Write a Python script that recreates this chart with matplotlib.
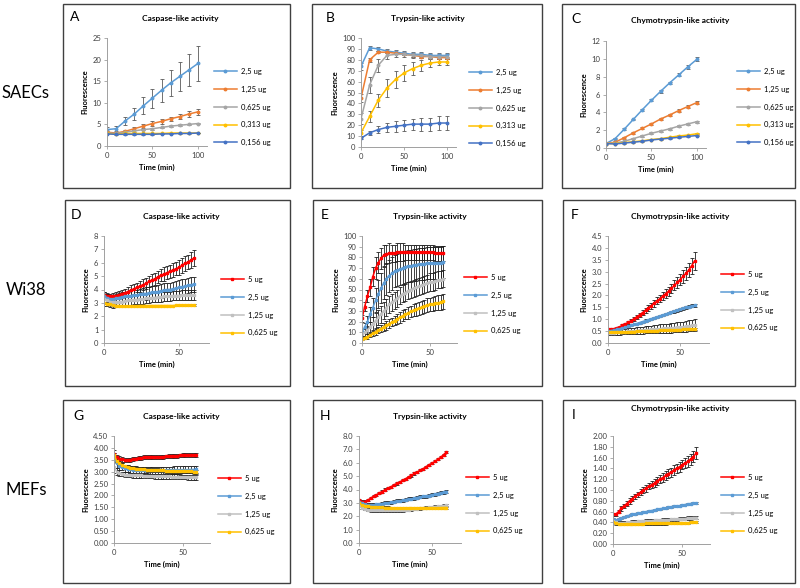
import numpy as np
import matplotlib
matplotlib.use("Agg")
import matplotlib.pyplot as plt
from matplotlib.patches import Rectangle
from matplotlib.ticker import FormatStrFormatter

plt.rcParams['font.family'] = ['Lato', 'DejaVu Sans']

# ---- data ----
t1 = [0, 10, 20, 30, 40, 50, 60, 70, 80, 90, 100]
t2 = list(range(0, 61, 2))

labels1 = ['2,5 ug', '1,25 ug', '0,625 ug', '0,313 ug', '0,156 ug']
labels2 = ['5 ug', '2,5 ug', '1,25 ug', '0,625 ug']
colors1 = ['#5B9BD5', '#ED7D31', '#A5A5A5', '#FFC000', '#4472C4']
colors2 = ['#FF0000', '#5B9BD5', '#C0C0C0', '#FFC000']

# SAECs caspase (A)
a_y = [[3.8, 4.0, 5.8, 7.4, 9.3, 11.1, 12.9, 14.6, 16.1, 17.6, 19.1],
       [3.2, 3.0, 3.4, 4.0, 4.6, 5.2, 5.7, 6.3, 6.8, 7.4, 7.9],
       [3.0, 2.9, 3.2, 3.5, 3.8, 4.0, 4.3, 4.6, 4.8, 5.0, 5.2],
       [2.9, 2.8, 2.9, 2.9, 2.9, 2.9, 2.9, 3.0, 3.0, 3.0, 3.0],
       [2.8, 2.7, 2.7, 2.7, 2.7, 2.7, 2.8, 2.8, 2.9, 2.9, 3.0]]
a_e = [[0.5, 0.6, 1.0, 1.3, 2.0, 2.2, 2.6, 3.0, 3.3, 3.7, 4.0],
       [0.3, 0.3, 0.3, 0.4, 0.5, 0.5, 0.5, 0.5, 0.6, 0.6, 0.7],
       [0.2, 0.2, 0.2, 0.2, 0.2, 0.2, 0.2, 0.2, 0.2, 0.2, 0.2],
       [0.1, 0.1, 0.1, 0.1, 0.1, 0.1, 0.1, 0.1, 0.1, 0.1, 0.1],
       [0.1, 0.1, 0.1, 0.1, 0.1, 0.1, 0.1, 0.1, 0.1, 0.1, 0.1]]

# SAECs trypsin (B)
b_y = [[74, 91, 90, 88, 87, 86, 85, 85, 84, 84, 84],
       [45, 80, 87, 87, 86, 85, 84, 83, 83, 82, 82],
       [26, 57, 75, 84, 85, 85, 84, 84, 83, 83, 83],
       [13, 28, 43, 54, 62, 68, 72, 75, 77, 78, 78],
       [8, 13, 16, 18, 19, 20, 21, 21, 21, 22, 22]]
b_e = [[3, 2, 2, 2, 2, 2, 2, 2, 2, 2, 2],
       [4, 2, 1, 1, 1, 1, 1, 1, 1, 1, 1],
       [5, 7, 6, 3, 2, 2, 2, 2, 2, 2, 2],
       [3, 5, 6, 8, 8, 7, 6, 5, 4, 3, 3],
       [1, 2, 3, 4, 5, 5, 5, 6, 6, 6, 6]]

# SAECs chymotrypsin (C)
c_y = [[0.5, 1.05, 2.1, 3.2, 4.3, 5.35, 6.35, 7.3, 8.2, 9.1, 9.95],
       [0.5, 0.65, 1.15, 1.7, 2.2, 2.7, 3.25, 3.7, 4.2, 4.65, 5.1],
       [0.5, 0.55, 0.75, 1.05, 1.35, 1.65, 1.9, 2.15, 2.45, 2.7, 2.95],
       [0.5, 0.5, 0.6, 0.7, 0.8, 0.95, 1.05, 1.2, 1.35, 1.45, 1.6],
       [0.5, 0.45, 0.55, 0.65, 0.75, 0.9, 1.0, 1.1, 1.2, 1.3, 1.4]]
c_e = [[0.05, 0.08, 0.1, 0.1, 0.12, 0.12, 0.15, 0.15, 0.18, 0.2, 0.2],
       [0.05, 0.08, 0.1, 0.1, 0.1, 0.12, 0.12, 0.15, 0.15, 0.18, 0.2],
       [0.05, 0.05, 0.08, 0.08, 0.08, 0.1, 0.1, 0.1, 0.1, 0.12, 0.12],
       [0.05, 0.05, 0.05, 0.05, 0.05, 0.05, 0.05, 0.05, 0.06, 0.06, 0.06],
       [0.05, 0.05, 0.05, 0.05, 0.05, 0.05, 0.05, 0.05, 0.06, 0.06, 0.06]]

# Wi38 caspase (D)
d_y = [[3.6, 3.55, 3.5, 3.5, 3.55, 3.6, 3.7, 3.75, 3.85, 3.95, 4.05, 4.15, 4.25, 4.35, 4.45, 4.6,
        4.7, 4.8, 4.95, 5.05, 5.15, 5.25, 5.35, 5.45, 5.55, 5.65, 5.8, 5.95, 6.05, 6.2, 6.35],
       [3.5, 3.4, 3.3, 3.3, 3.35, 3.4, 3.45, 3.5, 3.5, 3.55, 3.6, 3.6, 3.65, 3.7, 3.7, 3.75,
        3.8, 3.8, 3.85, 3.9, 3.95, 4.0, 4.0, 4.05, 4.1, 4.15, 4.2, 4.25, 4.3, 4.35, 4.4],
       [3.3, 3.2, 3.1, 3.05, 3.05, 3.1, 3.1, 3.15, 3.2, 3.2, 3.25, 3.25, 3.3, 3.3, 3.35, 3.35,
        3.4, 3.4, 3.45, 3.45, 3.5, 3.5, 3.5, 3.55, 3.55, 3.55, 3.6, 3.6, 3.6, 3.6, 3.6],
       [3.0, 2.95, 2.9, 2.85, 2.8, 2.8, 2.78, 2.78, 2.78, 2.78, 2.78, 2.78, 2.8, 2.8, 2.8, 2.8,
        2.8, 2.8, 2.8, 2.8, 2.8, 2.8, 2.8, 2.8, 2.82, 2.82, 2.82, 2.82, 2.82, 2.85, 2.85]]
d_e = [[0.2, 0.2, 0.2, 0.25, 0.25, 0.3, 0.3, 0.3, 0.3, 0.35, 0.35, 0.35, 0.4, 0.4, 0.4, 0.4,
        0.45, 0.45, 0.45, 0.45, 0.5, 0.5, 0.5, 0.5, 0.5, 0.55, 0.55, 0.55, 0.55, 0.6, 0.6],
       [0.3, 0.3, 0.3, 0.3, 0.3, 0.35, 0.35, 0.35, 0.35, 0.4, 0.4, 0.4, 0.4, 0.4, 0.45, 0.45,
        0.45, 0.45, 0.45, 0.5, 0.5, 0.5, 0.5, 0.5, 0.5, 0.55, 0.55, 0.55, 0.55, 0.55, 0.55],
       [0.5, 0.45, 0.4, 0.4, 0.35, 0.35, 0.35, 0.35, 0.35, 0.35, 0.35, 0.35, 0.35, 0.35, 0.35, 0.35,
        0.35, 0.35, 0.35, 0.35, 0.35, 0.35, 0.35, 0.35, 0.35, 0.35, 0.35, 0.35, 0.35, 0.35, 0.35],
       [0.05, 0.05, 0.05, 0.05, 0.05, 0.05, 0.05, 0.05, 0.05, 0.05, 0.05, 0.05, 0.05, 0.05, 0.05, 0.05,
        0.05, 0.05, 0.05, 0.05, 0.05, 0.05, 0.05, 0.05, 0.05, 0.05, 0.05, 0.05, 0.05, 0.05, 0.05]]

# Wi38 trypsin (E)
e_y = [[23, 34, 44, 52, 62, 70, 75, 79, 82, 83, 84, 84, 84, 85, 85, 85,
        85, 85, 85, 85, 85, 85, 85, 85, 85, 85, 85, 84, 84, 84, 84],
       [10, 15, 20, 27, 33, 40, 46, 51, 56, 60, 63, 65, 67, 68, 69, 70,
        71, 72, 72, 73, 73, 74, 74, 74, 75, 75, 75, 75, 75, 75, 76],
       [8, 10, 12, 15, 18, 21, 24, 27, 30, 33, 36, 38, 40, 42, 44, 46,
        47, 49, 50, 51, 52, 53, 54, 55, 56, 57, 57, 58, 59, 59, 60],
       [3.5, 5, 6, 7.5, 9, 10.5, 12, 13.5, 15, 16.5, 18, 19.5, 21, 22.5, 24, 25.5,
        27, 28, 29.5, 30.5, 31.5, 32.5, 33.5, 34.5, 35.5, 36, 36.5, 37, 37.5, 38, 39]]
e_e = [[3, 4, 6, 8, 9, 10, 10, 10, 10, 9, 9, 8, 8, 8, 8, 8,
        7, 7, 7, 7, 7, 7, 7, 7, 7, 7, 7, 7, 7, 7, 7],
       [3, 4, 5, 7, 9, 11, 13, 14, 15, 15, 15, 15, 15, 15, 15, 15,
        15, 15, 15, 15, 15, 15, 15, 15, 15, 15, 15, 15, 15, 15, 15],
       [2, 3, 4, 5, 6, 7, 7, 8, 8, 8, 8, 8, 8, 8, 8, 8,
        8, 8, 8, 8, 8, 8, 8, 8, 8, 8, 8, 8, 8, 8, 8],
       [1, 1.5, 2, 2, 2.5, 3, 3, 3.5, 3.5, 4, 4, 4, 4.5, 4.5, 5, 5,
        5, 5.5, 5.5, 5.5, 6, 6, 6, 6, 6.5, 6.5, 6.5, 6.5, 7, 7, 7]]

# Wi38 chymotrypsin (F)
f_y = [[0.57, 0.58, 0.6, 0.64, 0.68, 0.74, 0.8, 0.87, 0.94, 1.02, 1.1, 1.19, 1.28, 1.37, 1.47, 1.57,
        1.67, 1.77, 1.87, 1.97, 2.08, 2.18, 2.3, 2.42, 2.55, 2.67, 2.8, 2.93, 3.07, 3.25, 3.45],
       [0.5, 0.52, 0.54, 0.57, 0.6, 0.63, 0.66, 0.7, 0.74, 0.78, 0.82, 0.86, 0.9, 0.94, 0.98, 1.02,
        1.06, 1.1, 1.14, 1.18, 1.22, 1.26, 1.3, 1.34, 1.38, 1.42, 1.46, 1.5, 1.53, 1.56, 1.58],
       [0.42, 0.43, 0.44, 0.45, 0.46, 0.47, 0.48, 0.49, 0.5, 0.51, 0.52, 0.53, 0.54, 0.55, 0.56, 0.57,
        0.58, 0.59, 0.6, 0.61, 0.62, 0.63, 0.64, 0.65, 0.66, 0.67, 0.68, 0.7, 0.72, 0.74, 0.76],
       [0.45, 0.45, 0.45, 0.45, 0.46, 0.46, 0.47, 0.47, 0.48, 0.48, 0.49, 0.49, 0.5, 0.5, 0.51, 0.51,
        0.52, 0.52, 0.53, 0.53, 0.54, 0.54, 0.55, 0.55, 0.56, 0.56, 0.57, 0.57, 0.58, 0.58, 0.6]]
f_e = [[0.03, 0.03, 0.04, 0.04, 0.05, 0.05, 0.06, 0.06, 0.07, 0.08, 0.08, 0.09, 0.1, 0.11, 0.12, 0.13,
        0.14, 0.15, 0.16, 0.17, 0.18, 0.19, 0.2, 0.21, 0.22, 0.24, 0.26, 0.28, 0.3, 0.33, 0.36],
       [0.03, 0.03, 0.03, 0.03, 0.03, 0.03, 0.04, 0.04, 0.04, 0.04, 0.04, 0.04, 0.04, 0.05, 0.05, 0.05,
        0.05, 0.05, 0.05, 0.05, 0.05, 0.05, 0.05, 0.06, 0.06, 0.06, 0.06, 0.06, 0.06, 0.06, 0.06],
       [0.1, 0.1, 0.1, 0.1, 0.11, 0.11, 0.12, 0.12, 0.13, 0.13, 0.14, 0.14, 0.15, 0.15, 0.16, 0.16,
        0.17, 0.17, 0.18, 0.18, 0.19, 0.19, 0.2, 0.2, 0.21, 0.21, 0.22, 0.22, 0.23, 0.24, 0.25],
       [0.04, 0.04, 0.04, 0.04, 0.04, 0.04, 0.04, 0.04, 0.04, 0.04, 0.04, 0.04, 0.04, 0.04, 0.04, 0.04,
        0.04, 0.04, 0.04, 0.04, 0.04, 0.04, 0.04, 0.04, 0.04, 0.04, 0.04, 0.04, 0.04, 0.04, 0.04]]

# MEFs caspase (G)
g_y = [[3.75, 3.6, 3.55, 3.52, 3.5, 3.5, 3.5, 3.52, 3.55, 3.57, 3.58, 3.6, 3.6, 3.6, 3.62, 3.62,
        3.63, 3.62, 3.63, 3.64, 3.65, 3.65, 3.66, 3.67, 3.68, 3.7, 3.7, 3.7, 3.7, 3.7, 3.7],
       [3.6, 3.35, 3.25, 3.2, 3.15, 3.12, 3.1, 3.08, 3.07, 3.06, 3.05, 3.05, 3.05, 3.05, 3.05, 3.05,
        3.05, 3.05, 3.06, 3.06, 3.06, 3.06, 3.07, 3.07, 3.07, 3.08, 3.08, 3.08, 3.09, 3.09, 3.1],
       [3.2, 3.0, 2.95, 2.9, 2.88, 2.87, 2.86, 2.85, 2.85, 2.84, 2.84, 2.83, 2.83, 2.82, 2.82, 2.81,
        2.81, 2.8, 2.8, 2.8, 2.8, 2.79, 2.79, 2.79, 2.78, 2.78, 2.78, 2.77, 2.77, 2.76, 2.76],
       [3.7, 3.45, 3.35, 3.28, 3.22, 3.2, 3.17, 3.15, 3.13, 3.12, 3.1, 3.1, 3.08, 3.08, 3.07, 3.06,
        3.06, 3.05, 3.05, 3.04, 3.04, 3.03, 3.03, 3.03, 3.02, 3.02, 3.02, 3.01, 3.01, 3.0, 3.0]]
g_e = [[0.15, 0.12, 0.1, 0.1, 0.08, 0.08, 0.08, 0.08, 0.08, 0.08, 0.08, 0.08, 0.08, 0.08, 0.08, 0.08,
        0.08, 0.08, 0.08, 0.08, 0.08, 0.08, 0.08, 0.08, 0.08, 0.08, 0.08, 0.08, 0.08, 0.08, 0.08],
       [0.2, 0.18, 0.16, 0.15, 0.15, 0.15, 0.15, 0.15, 0.15, 0.15, 0.15, 0.15, 0.15, 0.15, 0.15, 0.15,
        0.15, 0.15, 0.15, 0.15, 0.15, 0.15, 0.15, 0.15, 0.15, 0.15, 0.15, 0.15, 0.15, 0.15, 0.15],
       [0.25, 0.15, 0.12, 0.1, 0.1, 0.1, 0.1, 0.1, 0.1, 0.1, 0.1, 0.1, 0.1, 0.1, 0.1, 0.1,
        0.1, 0.1, 0.1, 0.1, 0.1, 0.1, 0.1, 0.1, 0.1, 0.1, 0.1, 0.1, 0.1, 0.1, 0.1],
       [0.1, 0.08, 0.08, 0.08, 0.08, 0.08, 0.08, 0.08, 0.08, 0.08, 0.08, 0.08, 0.08, 0.08, 0.08, 0.08,
        0.08, 0.08, 0.08, 0.08, 0.08, 0.08, 0.08, 0.08, 0.08, 0.08, 0.08, 0.08, 0.08, 0.08, 0.08]]

# MEFs trypsin (H)
h_y = [[3.2, 3.1, 3.1, 3.2, 3.35, 3.5, 3.6, 3.75, 3.85, 4.0, 4.1, 4.2, 4.35, 4.45, 4.55, 4.7,
        4.8, 4.95, 5.05, 5.2, 5.3, 5.45, 5.55, 5.7, 5.85, 5.95, 6.1, 6.25, 6.4, 6.6, 6.8],
       [3.1, 3.0, 2.9, 2.85, 2.85, 2.85, 2.9, 2.9, 2.95, 3.0, 3.0, 3.05, 3.1, 3.15, 3.15, 3.2,
        3.25, 3.3, 3.3, 3.35, 3.4, 3.45, 3.5, 3.5, 3.55, 3.6, 3.65, 3.7, 3.75, 3.8, 3.85],
       [2.8, 2.65, 2.55, 2.5, 2.45, 2.45, 2.45, 2.45, 2.45, 2.45, 2.45, 2.45, 2.45, 2.45, 2.45, 2.45,
        2.48, 2.5, 2.52, 2.55, 2.57, 2.6, 2.62, 2.65, 2.67, 2.7, 2.72, 2.75, 2.77, 2.8, 2.82],
       [3.0, 2.85, 2.8, 2.75, 2.72, 2.7, 2.68, 2.67, 2.66, 2.65, 2.65, 2.64, 2.63, 2.63, 2.62, 2.62,
        2.62, 2.62, 2.62, 2.62, 2.62, 2.62, 2.62, 2.62, 2.62, 2.62, 2.63, 2.63, 2.64, 2.65, 2.65]]
h_e = [[0.1, 0.08, 0.08, 0.08, 0.08, 0.08, 0.08, 0.08, 0.08, 0.08, 0.08, 0.08, 0.08, 0.08, 0.08, 0.08,
        0.08, 0.08, 0.08, 0.08, 0.08, 0.08, 0.08, 0.08, 0.08, 0.08, 0.08, 0.08, 0.08, 0.08, 0.08],
       [0.12, 0.12, 0.12, 0.12, 0.12, 0.12, 0.12, 0.12, 0.12, 0.12, 0.12, 0.12, 0.12, 0.12, 0.12, 0.12,
        0.12, 0.12, 0.12, 0.12, 0.12, 0.12, 0.12, 0.12, 0.12, 0.12, 0.12, 0.12, 0.12, 0.12, 0.12],
       [0.1, 0.1, 0.1, 0.1, 0.1, 0.1, 0.1, 0.1, 0.1, 0.1, 0.1, 0.1, 0.1, 0.1, 0.1, 0.1,
        0.1, 0.1, 0.1, 0.1, 0.1, 0.1, 0.1, 0.1, 0.1, 0.1, 0.1, 0.1, 0.1, 0.1, 0.1],
       [0.08, 0.08, 0.08, 0.08, 0.08, 0.08, 0.08, 0.08, 0.08, 0.08, 0.08, 0.08, 0.08, 0.08, 0.08, 0.08,
        0.08, 0.08, 0.08, 0.08, 0.08, 0.08, 0.08, 0.08, 0.08, 0.08, 0.08, 0.08, 0.08, 0.08, 0.08]]

# MEFs chymotrypsin (I)
i_y = [[0.55, 0.55, 0.6, 0.66, 0.7, 0.75, 0.8, 0.84, 0.88, 0.92, 0.96, 1.0, 1.03, 1.07, 1.1, 1.13,
        1.17, 1.2, 1.23, 1.27, 1.3, 1.33, 1.37, 1.4, 1.43, 1.47, 1.5, 1.53, 1.57, 1.62, 1.68],
       [0.47, 0.44, 0.46, 0.48, 0.5, 0.52, 0.53, 0.55, 0.56, 0.57, 0.58, 0.59, 0.6, 0.61, 0.62, 0.63,
        0.64, 0.65, 0.66, 0.67, 0.68, 0.69, 0.7, 0.7, 0.71, 0.72, 0.73, 0.74, 0.75, 0.76, 0.76],
       [0.42, 0.4, 0.39, 0.39, 0.39, 0.4, 0.4, 0.41, 0.41, 0.42, 0.42, 0.42, 0.43, 0.43, 0.43, 0.44,
        0.44, 0.44, 0.45, 0.45, 0.45, 0.46, 0.46, 0.46, 0.47, 0.47, 0.47, 0.48, 0.48, 0.49, 0.49],
       [0.4, 0.38, 0.37, 0.37, 0.37, 0.37, 0.37, 0.37, 0.37, 0.37, 0.37, 0.37, 0.38, 0.38, 0.38, 0.38,
        0.38, 0.38, 0.38, 0.38, 0.39, 0.39, 0.39, 0.39, 0.39, 0.39, 0.39, 0.39, 0.4, 0.4, 0.4]]
i_e = [[0.03, 0.03, 0.03, 0.04, 0.04, 0.04, 0.05, 0.05, 0.05, 0.05, 0.06, 0.06, 0.06, 0.06, 0.07, 0.07,
        0.07, 0.07, 0.08, 0.08, 0.08, 0.08, 0.09, 0.09, 0.09, 0.09, 0.1, 0.1, 0.1, 0.11, 0.11],
       [0.015, 0.015, 0.015, 0.015, 0.015, 0.015, 0.015, 0.015, 0.015, 0.015, 0.015, 0.015, 0.015, 0.015, 0.015, 0.015,
        0.015, 0.015, 0.015, 0.015, 0.015, 0.015, 0.015, 0.015, 0.015, 0.015, 0.015, 0.015, 0.015, 0.015, 0.015],
       [0.03, 0.03, 0.03, 0.03, 0.03, 0.03, 0.03, 0.03, 0.03, 0.03, 0.03, 0.03, 0.03, 0.03, 0.03, 0.03,
        0.03, 0.03, 0.03, 0.03, 0.03, 0.03, 0.03, 0.03, 0.03, 0.03, 0.03, 0.03, 0.03, 0.03, 0.03],
       [0.02, 0.02, 0.02, 0.02, 0.02, 0.02, 0.02, 0.02, 0.02, 0.02, 0.02, 0.02, 0.02, 0.02, 0.02, 0.02,
        0.02, 0.02, 0.02, 0.02, 0.02, 0.02, 0.02, 0.02, 0.02, 0.02, 0.02, 0.02, 0.02, 0.02, 0.02]]

# ---- layout (pixels, origin top-left) ----
W, H = 800, 588
fig = plt.figure(figsize=(8, 5.88), dpi=100)

def fx(x):
    return x / W

def fy(y):
    return 1 - y / H

def box(x0, y0, x1, y1):
    fig.patches.append(Rectangle((fx(x0), fy(y1)), fx(x1 - x0), (y1 - y0) / H,
                                 transform=fig.transFigure, fill=False,
                                 edgecolor='#404040', lw=1.0))

def panel(letter, title, x, ys, es, labels, colors, box_px, ax_px, xmax, xticks,
          ylim, yticks, yfmt, title_xy, letter_xy, leg_xy, ecolor, msize, marker):
    box(*box_px)
    l, tp, r, b = ax_px
    ax = fig.add_axes([fx(l), fy(b), fx(r - l), (b - tp) / H])
    handles = []
    for yy, ee, lab, col in zip(ys, es, labels, colors):
        cont = ax.errorbar(x, yy, yerr=ee, color=col, lw=1.1, marker=marker, ms=msize,
                           ecolor=ecolor, elinewidth=0.6, capsize=1.6, capthick=0.6, label=lab)
        handles.append(cont[0])
    ax.set_xlim(0, xmax)
    ax.set_ylim(*ylim)
    ax.set_xticks(xticks)
    ax.set_yticks(yticks)
    if yfmt:
        ax.yaxis.set_major_formatter(FormatStrFormatter(yfmt))
    for s in ['top', 'right']:
        ax.spines[s].set_visible(False)
    for s in ['left', 'bottom']:
        ax.spines[s].set_color('#A0A0A0')
        ax.spines[s].set_linewidth(0.7)
    ax.tick_params(labelsize=5.5, colors='#404040', length=2, width=0.6, pad=2, direction='out')
    ax.tick_params(axis='both', color='#A0A0A0')
    ax.set_xlabel('Time (min)', fontsize=5.5, fontweight='bold', labelpad=4)
    ax.set_ylabel('Fluorescence', fontsize=5.5, fontweight='bold', labelpad=3)
    fig.text(fx(title_xy[0]), fy(title_xy[1]), title, fontsize=6, fontweight='bold',
             ha='center', va='center')
    fig.text(fx(letter_xy[0]), fy(letter_xy[1]), letter, fontsize=10, ha='center', va='center')
    ax.legend(handles=handles, labels=labels, loc='upper left',
              bbox_to_anchor=(fx(leg_xy[0]), fy(leg_xy[1])),
              bbox_transform=fig.transFigure, frameon=False, fontsize=5.5,
              handlelength=3.0, handletextpad=0.5, labelspacing=1.4, borderpad=0,
              borderaxespad=0)
    return ax

r1 = dict(labels=labels1, colors=colors1, xmax=110, xticks=[0, 50, 100], ecolor='#595959',
          msize=1.8, marker='o')
r2 = dict(labels=labels2, colors=colors2, xmax=70, xticks=[0, 50], ecolor='#202020',
          msize=1.6, marker='s')

panel('A', 'Caspase-like activity', t1, a_y, a_e, box_px=(63, 4, 290, 188),
      ax_px=(107, 38, 207, 146), ylim=(0, 25), yticks=range(0, 26, 5), yfmt=None,
      title_xy=(180, 19), letter_xy=(75, 17), leg_xy=(214, 68), **r1)
panel('B', 'Trypsin-like activity', t1, b_y, b_e, box_px=(312, 4, 542, 188),
      ax_px=(361, 38, 456, 147), ylim=(0, 100), yticks=range(0, 101, 10), yfmt=None,
      title_xy=(428, 19), letter_xy=(330, 18), leg_xy=(469, 69), **r1)
panel('C', 'Chymotrypsin-like activity', t1, c_y, c_e, box_px=(562, 4, 795, 188),
      ax_px=(606, 41, 706, 148), ylim=(0, 12), yticks=range(0, 13, 2), yfmt=None,
      title_xy=(680, 21), letter_xy=(576, 19), leg_xy=(737, 68), **r1)

panel('D', 'Caspase-like activity', t2, d_y, d_e, box_px=(65, 200, 290, 386),
      ax_px=(104, 236, 209, 343), ylim=(0, 8), yticks=range(0, 9), yfmt=None,
      title_xy=(181, 216), letter_xy=(76, 215), leg_xy=(221, 276), **r2)
panel('E', 'Trypsin-like activity', t2, e_y, e_e, box_px=(313, 200, 542, 386),
      ax_px=(362, 236, 457, 343), ylim=(0, 100), yticks=range(0, 101, 10), yfmt=None,
      title_xy=(430, 216), letter_xy=(325, 215), leg_xy=(464, 274), **r2)
panel('F', 'Chymotrypsin-like activity', t2, f_y, f_e, box_px=(563, 200, 795, 386),
      ax_px=(608, 236, 709, 343), ylim=(0, 4.5), yticks=np.arange(0, 4.51, 0.5), yfmt='%.1f',
      title_xy=(680, 216), letter_xy=(575, 215), leg_xy=(721, 271), **r2)

panel('G', 'Caspase-like activity', t2, g_y, g_e, box_px=(63, 400, 290, 583),
      ax_px=(114, 436, 210, 543), ylim=(0, 4.5), yticks=np.arange(0, 4.51, 0.5), yfmt='%.2f',
      title_xy=(181, 416), letter_xy=(78, 416), leg_xy=(218, 475), **r2)
panel('H', 'Trypsin-like activity', t2, h_y, h_e, box_px=(313, 400, 542, 583),
      ax_px=(359, 436, 461, 543), ylim=(0, 8), yticks=range(0, 9), yfmt='%.1f',
      title_xy=(430, 416), letter_xy=(325, 416), leg_xy=(466, 474), **r2)
panel('I', 'Chymotrypsin-like activity', t2, i_y, i_e, box_px=(563, 400, 795, 583),
      ax_px=(613, 436, 710, 544), ylim=(0, 2), yticks=np.arange(0, 2.01, 0.2), yfmt='%.2f',
      title_xy=(680, 409), letter_xy=(574, 415), leg_xy=(721, 474), **r2)

# row labels
for txt, yy in [('SAECs', 93), ('Wi38', 290), ('MEFs', 490)]:
    fig.text(fx(26), fy(yy), txt, fontsize=12, ha='center', va='center')

fig.savefig('out.png', dpi=100)
